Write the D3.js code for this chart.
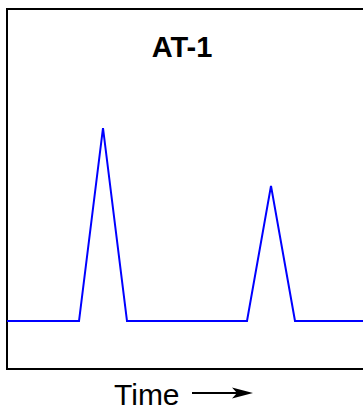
<!DOCTYPE html>
<html>
<head>
<meta charset="utf-8">
<script src="https://cdn.jsdelivr.net/npm/d3@7"></script>
<style>
  body { margin: 0; background: #fff; }
  svg { display: block; }
</style>
</head>
<body>
<div class="chart"></div>
<script>

var width = 363;
var height = 413;

// time in arbitrary units, detector signal in % of first peak
var times = [0, 3, 4, 5, 10, 11, 12, 15];
var signal = [0, 0, 100, 0, 0, 70, 0, 0];

var title = "AT-1";
var xLabel = "Time";

var data = times.map(function(t, i) {
	return { t: t, v: signal[i] };
});

var svg = d3.select(".chart")
			.append("svg")
			.attr("width", width)
			.attr("height", height);

var xScale = d3.scaleLinear()
			   .domain([0, 15])
			   .range([7, 367]);

var yScale = d3.scaleLinear()
			   .domain([0, 100])
			   .range([321, 128]);

// frame (right edge runs off the page)
svg.append("rect")
   .attr("x", 7)
   .attr("y", 9)
   .attr("width", 400)
   .attr("height", 360)
   .attr("fill", "none")
   .attr("stroke", "black")
   .attr("stroke-width", 2);

var line = d3.line()
			 .x(function(d) { return xScale(d.t); })
			 .y(function(d) { return yScale(d.v); });

svg.append("path")
   .datum(data)
   .attr("d", line)
   .attr("fill", "none")
   .attr("stroke", "#0000ff")
   .attr("stroke-width", 2)
   .attr("stroke-linejoin", "miter");

svg.append("text")
   .text(title)
   .attr("x", 182)
   .attr("y", 57)
   .attr("text-anchor", "middle")
   .attr("font-family", "Liberation Sans, Arial, sans-serif")
   .attr("font-weight", "bold")
   .attr("font-size", "29px")
   .attr("fill", "black");

svg.append("text")
   .text(xLabel)
   .attr("x", 114)
   .attr("y", 405)
   .attr("font-family", "Liberation Sans, Arial, sans-serif")
   .attr("font-size", "30px")
   .attr("fill", "black");

// arrow after the label
svg.append("line")
   .attr("x1", 192)
   .attr("y1", 393)
   .attr("x2", 240)
   .attr("y2", 393)
   .attr("stroke", "black")
   .attr("stroke-width", 2);

svg.append("path")
   .attr("d", "M253,393 L232,387.5 L237,393 L232,398.5 Z")
   .attr("fill", "black");

</script>
</body>
</html>
